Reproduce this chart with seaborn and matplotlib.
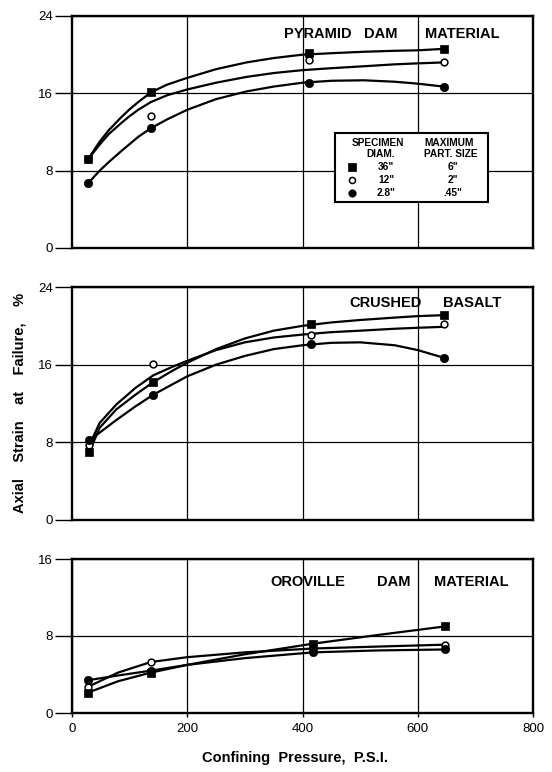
import numpy as np
import pandas as pd
import matplotlib
matplotlib.use("Agg")
import matplotlib.pyplot as plt
import seaborn as sns
from matplotlib.patches import Rectangle

sns.set_theme(style="white")
plt.rcParams['font.family'] = ['Liberation Sans', 'DejaVu Sans']

# ---------------- data ----------------
series = ['36"', '12"', '2.8"']
max_part = ['6"', '2"', '.45"']

# Pyramid Dam material
pyr_pressure = [28, 137, 412, 645]
pyr_36 = [9.2, 16.1, 20.2, 20.6]
pyr_12 = [9.2, 13.7, 19.5, 19.2]
pyr_28 = [6.7, 12.4, 17.1, 16.7]
pyr_curve_x = [28, 48, 64, 85, 99, 115, 137, 165, 200, 250, 303, 350, 400, 450, 506, 560, 600, 645]
pyr_curve_36 = [9.2, 11.0, 12.2, 13.5, 14.3, 15.1, 16.1, 16.9, 17.6, 18.5, 19.2, 19.65, 20.0, 20.15, 20.3, 20.4, 20.45, 20.6]
pyr_curve_12 = [9.2, 10.7, 11.8, 12.9, 13.6, 14.3, 15.1, 15.8, 16.4, 17.1, 17.7, 18.1, 18.4, 18.6, 18.8, 19.0, 19.1, 19.2]
pyr_curve_28 = [6.7, 8.0, 8.9, 10.0, 10.7, 11.5, 12.4, 13.3, 14.3, 15.4, 16.2, 16.7, 17.1, 17.3, 17.35, 17.2, 17.0, 16.7]

# Crushed basalt
bas_pressure = [30, 141, 415, 646]
bas_36 = [7.0, 14.2, 20.2, 21.1]
bas_12 = [7.7, 16.1, 19.1, 20.2]
bas_28 = [8.2, 12.9, 18.1, 16.7]
bas_curve_x = [30, 48, 77, 110, 141, 175, 200, 250, 300, 350, 400, 450, 500, 560, 600, 646]
bas_curve_36 = [7.0, 9.5, 11.4, 12.9, 14.2, 15.4, 16.2, 17.6, 18.7, 19.5, 20.0, 20.35, 20.6, 20.85, 21.0, 21.1]
bas_curve_12 = [7.7, 10.0, 11.9, 13.6, 14.9, 15.8, 16.4, 17.5, 18.3, 18.8, 19.1, 19.35, 19.5, 19.7, 19.8, 19.9]
bas_curve_28 = [8.2, 9.0, 10.3, 11.7, 12.9, 14.0, 14.8, 16.0, 16.9, 17.6, 18.0, 18.25, 18.3, 18.0, 17.5, 16.7]

# Oroville Dam material
oro_pressure = [27, 137, 418, 648]
oro_36 = [2.1, 4.2, 7.2, 9.0]
oro_12 = [2.7, 5.3, 6.6, 7.1]
oro_28 = [3.4, 4.4, 6.3, 6.6]
oro_curve_x = [27, 80, 137, 200, 300, 418, 530, 648]
oro_curve_36 = [2.1, 3.3, 4.2, 5.0, 6.1, 7.2, 8.1, 9.0]
oro_curve_12 = [2.7, 4.2, 5.3, 5.8, 6.3, 6.7, 6.9, 7.1]
oro_curve_28 = [3.4, 3.9, 4.4, 5.0, 5.7, 6.3, 6.5, 6.6]

x_ticks = [0, 200, 400, 600, 800]

# ---------------- figure ----------------
W, H = 552, 772
fig = plt.figure(figsize=(W / 100, H / 100), dpi=100)
fig.patch.set_facecolor('white')

left = 72 / W
width = 461 / W
ax1 = fig.add_axes([left, 1 - 248 / H, width, 232 / H])
ax2 = fig.add_axes([left, 1 - 520 / H, width, 233 / H])
ax3 = fig.add_axes([left, 1 - 713 / H, width, 154 / H])

marker_style = {
    '36"': dict(marker='s', s=34, color='black', edgecolor='black', linewidth=0.5),
    '12"': dict(marker='o', s=24, color='white', edgecolor='black', linewidth=1.1),
    '2.8"': dict(marker='o', s=36, color='black', edgecolor='black', linewidth=0.5),
}


def draw_panel(ax, px, pts, cx, curves, ymax, yticks, words):
    curve_df = pd.concat([
        pd.DataFrame({'p': cx, 'v': c, 'size': s}) for s, c in zip(series, curves)
    ])
    for s in series:
        sub = curve_df[curve_df['size'] == s]
        sns.lineplot(data=sub, x='p', y='v', ax=ax, color='black', lw=1.6,
                     estimator=None, sort=False, legend=False, zorder=3)
    pt_df = pd.concat([
        pd.DataFrame({'p': px, 'v': v, 'size': s}) for s, v in zip(series, pts)
    ])
    for s in ['12"', '2.8"', '36"']:
        sub = pt_df[pt_df['size'] == s]
        sns.scatterplot(data=sub, x='p', y='v', ax=ax, legend=False, zorder=4,
                        **marker_style[s])
    ax.set_xlim(0, 800)
    ax.set_ylim(0, ymax)
    ax.set_xticks([200, 400, 600], minor=False)
    ax.set_yticks(yticks)
    ax.grid(True, color='black', lw=0.9)
    ax.set_axisbelow(True)
    for sp in ax.spines.values():
        sp.set_visible(True)
        sp.set_color('black')
        sp.set_linewidth(1.7)
    ax.tick_params(axis='y', direction='out', length=12, width=1, pad=1.5,
                   labelsize=9.5, colors='black', left=True)
    ax.set_xlabel('')
    ax.set_ylabel('')
    for txt, xf, yf in words:
        ax.text(xf, yf, txt, transform=ax.transAxes, ha='left', va='center',
                fontsize=10.5, fontweight='bold', color='black', zorder=6)


draw_panel(ax1, pyr_pressure, [pyr_36, pyr_12, pyr_28], pyr_curve_x,
           [pyr_curve_36, pyr_curve_12, pyr_curve_28], 24, [0, 8, 16, 24],
           [('PYRAMID', 0.460, 0.922), ('DAM', 0.633, 0.922), ('MATERIAL', 0.766, 0.922)])
draw_panel(ax2, bas_pressure, [bas_36, bas_12, bas_28], bas_curve_x,
           [bas_curve_36, bas_curve_12, bas_curve_28], 24, [0, 8, 16, 24],
           [('CRUSHED', 0.601, 0.931), ('BASALT', 0.805, 0.931)])
draw_panel(ax3, oro_pressure, [oro_36, oro_12, oro_28], oro_curve_x,
           [oro_curve_36, oro_curve_12, oro_curve_28], 16, [0, 8, 16],
           [('OROVILLE', 0.430, 0.851), ('DAM', 0.661, 0.851), ('MATERIAL', 0.785, 0.851)])

for ax in (ax1, ax2):
    ax.tick_params(axis='x', bottom=False, labelbottom=False)
ax3.set_xticks(x_ticks)
ax3.tick_params(axis='x', direction='out', length=3, width=1, pad=4,
                labelsize=9.5, colors='black', bottom=True)
ax3.xaxis.grid(True)
ax3.set_xticklabels([str(t) for t in x_ticks])

# ---- legend box in top panel ----
ax1.add_patch(Rectangle((0.570, 0.198), 0.332, 0.298, transform=ax1.transAxes,
                        facecolor='white', edgecolor='black', lw=1.5, zorder=5))
lg_kw = dict(transform=ax1.transAxes, ha='center', va='center', fontsize=7.3,
             fontweight='bold', color='black', zorder=6)
ax1.text(0.663, 0.454, 'SPECIMEN', **lg_kw)
ax1.text(0.818, 0.454, 'MAXIMUM', **lg_kw)
ax1.text(0.670, 0.405, 'DIAM.', **lg_kw)
ax1.text(0.822, 0.405, 'PART. SIZE', **lg_kw)
rows_y = [0.350, 0.293, 0.238]
for s, mp, yy in zip(series, max_part, rows_y):
    st = marker_style[s]
    ax1.scatter([0.607], [yy], transform=ax1.transAxes, marker=st['marker'],
                s=st['s'] * 0.8, c=st['color'], edgecolors=st['edgecolor'],
                linewidths=st['linewidth'], zorder=6, clip_on=False)
    ax1.text(0.681, yy, s, **lg_kw)
    ax1.text(0.826, yy, mp, **lg_kw)

# ---- axis labels ----
fig.text(20 / W, 1 - 403 / H, 'Axial    Strain    at    Failure,    %', rotation=90,
         ha='center', va='center', fontsize=10.5, fontweight='bold', color='black')
fig.text(202 / W, 1 - 758 / H, 'Confining  Pressure,  P.S.I.', ha='left',
         va='center', fontsize=10.5, fontweight='bold', color='black')

fig.savefig('out.png', dpi=100, facecolor='white')
